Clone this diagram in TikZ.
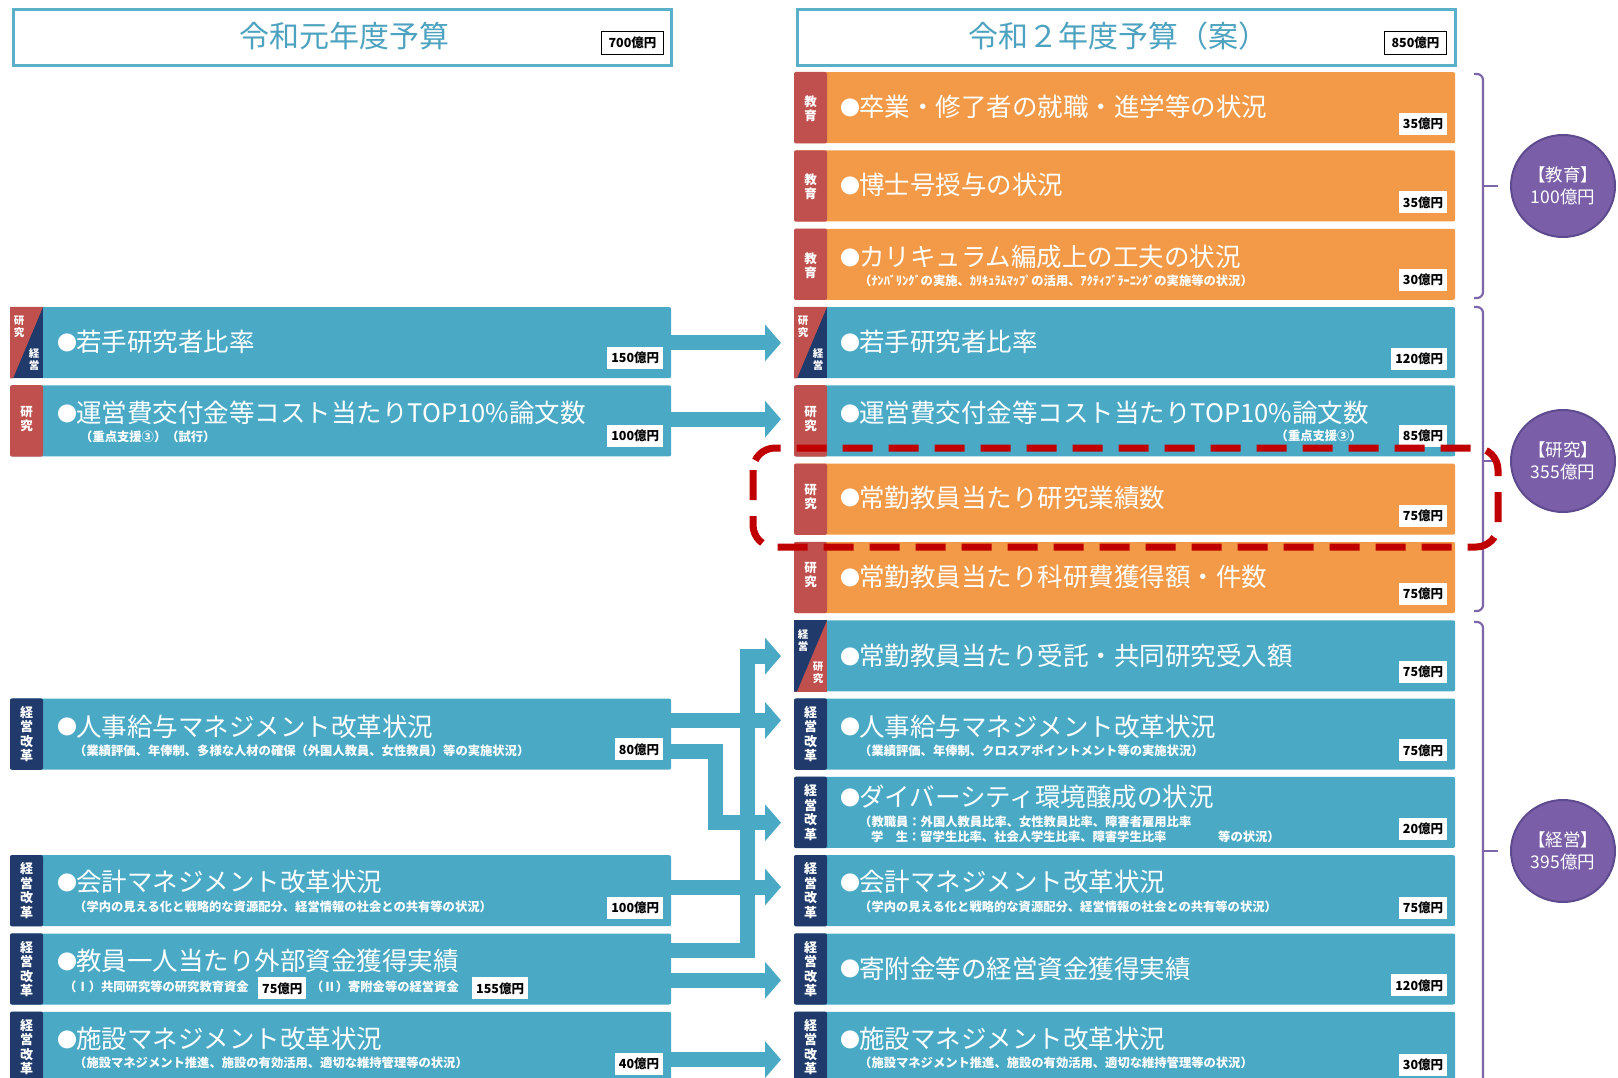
\documentclass[tikz,border=0pt]{standalone}
\usepackage{fontspec}
\setmainfont{Noto Sans CJK JP}
\usetikzlibrary{arrows.meta,shapes.geometric}
\definecolor{cBlue}{HTML}{4AAAC6}
\definecolor{cOrange}{HTML}{F39A48}
\definecolor{cRed}{HTML}{C0504D}
\definecolor{cNavy}{HTML}{1F3A6B}
\definecolor{cHdr}{HTML}{5BB0C9}
\definecolor{cTitle}{HTML}{4DA3BF}
\definecolor{cPurple}{HTML}{7A5FA8}
\definecolor{cPurpleD}{HTML}{5E4A8E}
\definecolor{cBrace}{HTML}{7D66AA}
\definecolor{cHL}{HTML}{C00000}
\newcommand\mybul{{\fontsize{20}{20}\selectfont\raisebox{1.2pt}{●}}\hspace{-1pt}}
\tikzset{
  rowbox/.style={minimum width=661pt, minimum height=71pt, anchor=north west, inner sep=0pt, rounded corners=2pt},
  maintxt/.style={anchor=west, inner sep=0pt, text=white, font=\fontsize{25.5}{27}\selectfont},
  subtxt/.style={anchor=west, inner sep=0pt, text=white, font=\bfseries\fontsize{12.3}{14}\selectfont},
  budget/.style={anchor=east, fill=white, inner xsep=4pt, inner ysep=0pt, minimum height=22pt, font=\bfseries\fontsize{12.5}{13}\selectfont, text=black},
  tagtxt/.style={text=white, font=\bfseries\fontsize{12.5}{14}\selectfont, align=center, inner sep=0pt},
  tagsmall/.style={text=white, font=\bfseries\fontsize{10.5}{12}\selectfont, align=center, inner sep=0pt},
  arr/.style={draw=cBlue, line width=15pt, line join=miter, -{Triangle[length=16pt,width=36pt]}},
  hdr/.style={draw=cHdr, line width=3.5pt, fill=white, minimum width=658pt, minimum height=56pt, anchor=north west, inner sep=0pt},
  hdrbudget/.style={draw=black, line width=1.6pt, fill=white, minimum width=62pt, minimum height=23pt, inner sep=0pt, font=\bfseries\fontsize{12.5}{13}\selectfont},
  circ/.style={ellipse, fill=cPurple, draw=cPurpleD, line width=2pt, minimum width=104pt, minimum height=102pt, text=white, font=\fontsize{17.5}{22}\selectfont, align=center, inner sep=0pt},
  bracepath/.style={draw=cBrace, line width=2.2pt, rounded corners=6pt},
  hl/.style={draw=cHL, line width=7pt, dash pattern=on 30pt off 16pt, rounded corners=22pt},
}
\begin{document}
\begin{tikzpicture}[x=1pt,y=-1pt]
\clip (0,0) rectangle (1618,1078);
\fill[white] (0,0) rectangle (1618,1078);

% headers
\node[hdr] (H1) at (11.75,7.75) {};
\node[font=\fontsize{30}{31}\selectfont, text=cTitle, inner sep=0pt] (H1t) at (344,36) {令和元年度予算};
\node[hdrbudget] (H1b) at (632.5,43) {700億円};
\node[hdr] (H2) at (795.75,7.75) {};
\node[font=\fontsize{30}{31}\selectfont, text=cTitle, inner sep=0pt] (H2t) at (1118,36) {令和２年度予算（案）};
\node[hdrbudget] (H2b) at (1415.5,43) {850億円};

% left rows
\node[rowbox, fill=cBlue] (L1) at (10,306.9) {};
\node[rowbox, fill=cBlue] (L2) at (10,385.2) {};
\node[rowbox, fill=cBlue] (L3) at (10,698.4) {};
\node[rowbox, fill=cBlue] (L4) at (10,855) {};
\node[rowbox, fill=cBlue] (L5) at (10,933.3) {};
\node[rowbox, fill=cBlue] (L6) at (10,1011.6) {};

% right rows
\node[rowbox, fill=cOrange] (R1) at (794,72) {};
\node[rowbox, fill=cOrange] (R2) at (794,150.3) {};
\node[rowbox, fill=cOrange] (R3) at (794,228.6) {};
\node[rowbox, fill=cBlue] (R4) at (794,306.9) {};
\node[rowbox, fill=cBlue] (R5) at (794,385.2) {};
\node[rowbox, fill=cOrange] (R6) at (794,463.5) {};
\node[rowbox, fill=cOrange] (R7) at (794,541.8) {};
\node[rowbox, fill=cBlue] (R8) at (794,620.1) {};
\node[rowbox, fill=cBlue] (R9) at (794,698.4) {};
\node[rowbox, fill=cBlue] (R10) at (794,776.7) {};
\node[rowbox, fill=cBlue] (R11) at (794,855) {};
\node[rowbox, fill=cBlue] (R12) at (794,933.3) {};
\node[rowbox, fill=cBlue] (R13) at (794,1011.6) {};

% arrows
\draw[arr] ([yshift=-36pt]L1.north east) -- ([xshift=-13pt,yshift=-36pt]R4.north west);
\draw[arr] ([yshift=-34pt]L2.north east) -- ([xshift=-13pt,yshift=-34pt]R5.north west);
\draw[arr] ([yshift=-22pt]L3.north east) -- ([xshift=-13pt,yshift=-22pt]R9.north west);
\draw[arr] ([yshift=-53pt]L3.north east) -- ++(44,0) |- ([xshift=-13pt,yshift=-46pt]R10.north west);
\draw[arr] ([yshift=-17pt]L5.north east) -- ++(76,0) |- ([xshift=-13pt,yshift=-36pt]R8.north west);
\draw[arr] ([yshift=-32pt]L4.north east) -- ([xshift=-13pt,yshift=-32pt]R11.north west);
\draw[arr] ([yshift=-47pt]L5.north east) -- ([xshift=-13pt,yshift=-47pt]R12.north west);
\draw[arr] ([yshift=-48pt]L6.north east) -- ([xshift=-13pt,yshift=-48pt]R13.north west);

% tags: plain
\foreach \r/\c in {R1/cRed,R2/cRed,R3/cRed,R5/cRed,R6/cRed,R7/cRed,R9/cNavy,R10/cNavy,R11/cNavy,R12/cNavy,R13/cNavy,L2/cRed,L3/cNavy,L4/cNavy,L5/cNavy,L6/cNavy}{
  \fill[\c, rounded corners=2pt] (\r.north west) rectangle ([xshift=33pt]\r.south west);
}
\foreach \r in {R1,R2,R3}{\node[tagtxt] (\r tag) at ([xshift=16.5pt,yshift=-1pt]\r.west) {教\\育};}
\foreach \r in {R5,R6,R7,L2}{\node[tagtxt] (\r tag) at ([xshift=16.5pt,yshift=2pt]\r.west) {研\\究};}
\foreach \r in {R9,R10,R11,R12,R13,L3,L4,L5,L6}{\node[tagtxt, font=\bfseries\fontsize{13}{14.5}\selectfont] (\r tag) at ([xshift=16.5pt]\r.west) {経\\営\\改\\革};}

% tags: diagonal
\foreach \r in {R4,L1}{
  \fill[cNavy] (\r.north west) rectangle ([xshift=33pt]\r.south west);
  \fill[cRed] (\r.north west) -- ([xshift=33pt]\r.north west) -- ([xshift=3pt]\r.south west) -- (\r.south west) -- cycle;
  \node[tagsmall] (\r tagA) at ([xshift=9pt,yshift=-20pt]\r.north west) {研\\究};
  \node[tagsmall] (\r tagB) at ([xshift=24pt,yshift=19pt]\r.south west) {経\\営};
}
\fill[cRed] (R8.north west) rectangle ([xshift=33pt]R8.south west);
\fill[cNavy] (R8.north west) -- ([xshift=33pt]R8.north west) -- ([xshift=3pt]R8.south west) -- (R8.south west) -- cycle;
\node[tagsmall] (R8tagA) at ([xshift=9pt,yshift=-20pt]R8.north west) {経\\営};
\node[tagsmall] (R8tagB) at ([xshift=24pt,yshift=19pt]R8.south west) {研\\究};

% right texts
\node[maintxt] (R1t) at ([xshift=46pt,yshift=-35pt]R1.north west) {\mybul 卒業・修了者の就職・進学等の状況};
\node[maintxt] (R2t) at ([xshift=46pt,yshift=-35pt]R2.north west) {\mybul 博士号授与の状況};
\node[maintxt] (R3t) at ([xshift=46pt,yshift=-28pt]R3.north west) {\mybul カリキュラム編成上の工夫の状況};
\node[subtxt] (R3s) at ([xshift=65pt,yshift=-52pt]R3.north west) {（ﾅﾝﾊﾞﾘﾝｸﾞの実施、ｶﾘｷｭﾗﾑﾏｯﾌﾟの活用、ｱｸﾃｨﾌﾞﾗｰﾆﾝｸﾞの実施等の状況）};
\node[maintxt] (R4t) at ([xshift=46pt,yshift=-35pt]R4.north west) {\mybul 若手研究者比率};
\node[maintxt] (R5t) at ([xshift=46pt,yshift=-28pt]R5.north west) {\mybul 運営費交付金等コスト当たりTOP10\%論文数};
\node[subtxt, anchor=east] (R5s) at ([xshift=568pt,yshift=-51pt]R5.north west) {（重点支援③）};
\node[maintxt] (R6t) at ([xshift=46pt,yshift=-34pt]R6.north west) {\mybul 常勤教員当たり研究業績数};
\node[maintxt] (R7t) at ([xshift=46pt,yshift=-35pt]R7.north west) {\mybul 常勤教員当たり科研費獲得額・件数};
\node[maintxt] (R8t) at ([xshift=46pt,yshift=-36pt]R8.north west) {\mybul 常勤教員当たり受託・共同研究受入額};
\node[maintxt] (R9t) at ([xshift=46pt,yshift=-28pt]R9.north west) {\mybul 人事給与マネジメント改革状況};
\node[subtxt] (R9s) at ([xshift=65pt,yshift=-52pt]R9.north west) {（業績評価、年俸制、クロスアポイントメント等の実施状況）};
\node[maintxt] (R10t) at ([xshift=46pt,yshift=-20pt]R10.north west) {\mybul ダイバーシティ環境醸成の状況};
\node[subtxt] (R10s) at ([xshift=65pt,yshift=-45pt]R10.north west) {（教職員：外国人教員比率、女性教員比率、障害者雇用比率};
\node[subtxt] (R10u) at ([xshift=77pt,yshift=-60pt]R10.north west) {学　生：留学生比率、社会人学生比率、障害学生比率};
\node[subtxt] (R10v) at ([xshift=424pt,yshift=-60pt]R10.north west) {等の状況）};
\node[maintxt] (R11t) at ([xshift=46pt,yshift=-27pt]R11.north west) {\mybul 会計マネジメント改革状況};
\node[subtxt] (R11s) at ([xshift=65pt,yshift=-52pt]R11.north west) {（学内の見える化と戦略的な資源配分、経営情報の社会との共有等の状況）};
\node[maintxt] (R12t) at ([xshift=46pt,yshift=-35pt]R12.north west) {\mybul 寄附金等の経営資金獲得実績};
\node[maintxt] (R13t) at ([xshift=46pt,yshift=-27pt]R13.north west) {\mybul 施設マネジメント改革状況};
\node[subtxt] (R13s) at ([xshift=65pt,yshift=-51pt]R13.north west) {（施設マネジメント推進、施設の有効活用、適切な維持管理等の状況）};

% right budgets
\node[budget] (R1b) at ([xshift=-8pt,yshift=-52pt]R1.north east) {35億円};
\node[budget] (R2b) at ([xshift=-8pt,yshift=-52pt]R2.north east) {35億円};
\node[budget] (R3b) at ([xshift=-8pt,yshift=-51pt]R3.north east) {30億円};
\node[budget] (R4b) at ([xshift=-8pt,yshift=-52pt]R4.north east) {120億円};
\node[budget] (R5b) at ([xshift=-8pt,yshift=-51pt]R5.north east) {85億円};
\node[budget] (R6b) at ([xshift=-8pt,yshift=-52pt]R6.north east) {75億円};
\node[budget] (R7b) at ([xshift=-8pt,yshift=-52pt]R7.north east) {75億円};
\node[budget] (R8b) at ([xshift=-8pt,yshift=-52pt]R8.north east) {75億円};
\node[budget] (R9b) at ([xshift=-8pt,yshift=-52pt]R9.north east) {75億円};
\node[budget] (R10b) at ([xshift=-8pt,yshift=-52pt]R10.north east) {20億円};
\node[budget] (R11b) at ([xshift=-8pt,yshift=-53pt]R11.north east) {75億円};
\node[budget] (R12b) at ([xshift=-8pt,yshift=-52pt]R12.north east) {120億円};
\node[budget] (R13b) at ([xshift=-8pt,yshift=-53pt]R13.north east) {30億円};

% left texts
\node[maintxt] (L1t) at ([xshift=47pt,yshift=-35pt]L1.north west) {\mybul 若手研究者比率};
\node[maintxt] (L2t) at ([xshift=47pt,yshift=-28pt]L2.north west) {\mybul 運営費交付金等コスト当たりTOP10\%論文数};
\node[subtxt] (L2s) at ([xshift=70pt,yshift=-52pt]L2.north west) {（重点支援③）（試行）};
\node[maintxt] (L3t) at ([xshift=47pt,yshift=-28pt]L3.north west) {\mybul 人事給与マネジメント改革状況};
\node[subtxt] (L3s) at ([xshift=64pt,yshift=-52pt]L3.north west) {（業績評価、年俸制、多様な人材の確保（外国人教員、女性教員）等の実施状況）};
\node[maintxt] (L4t) at ([xshift=47pt,yshift=-27pt]L4.north west) {\mybul 会計マネジメント改革状況};
\node[subtxt] (L4s) at ([xshift=64pt,yshift=-52pt]L4.north west) {（学内の見える化と戦略的な資源配分、経営情報の社会との共有等の状況）};
\node[maintxt] (L5t) at ([xshift=47pt,yshift=-28pt]L5.north west) {\mybul 教員一人当たり外部資金獲得実績};
\node[subtxt] (L5s) at ([xshift=54pt,yshift=-54pt]L5.north west) {（Ⅰ）共同研究等の研究教育資金};
\node[budget, anchor=west] (L5b1) at ([xshift=248pt,yshift=-55pt]L5.north west) {75億円};
\node[subtxt] (L5u) at ([xshift=301pt,yshift=-54pt]L5.north west) {（Ⅱ）寄附金等の経営資金};
\node[budget, anchor=west] (L5b2) at ([xshift=462pt,yshift=-55pt]L5.north west) {155億円};
\node[maintxt] (L6t) at ([xshift=47pt,yshift=-27pt]L6.north west) {\mybul 施設マネジメント改革状況};
\node[subtxt] (L6s) at ([xshift=64pt,yshift=-51pt]L6.north west) {（施設マネジメント推進、施設の有効活用、適切な維持管理等の状況）};

% left budgets
\node[budget] (L1b) at ([xshift=-8pt,yshift=-51pt]L1.north east) {150億円};
\node[budget] (L2b) at ([xshift=-8pt,yshift=-51pt]L2.north east) {100億円};
\node[budget] (L3b) at ([xshift=-8pt,yshift=-51pt]L3.north east) {80億円};
\node[budget] (L4b) at ([xshift=-8pt,yshift=-53pt]L4.north east) {100億円};
\node[budget] (L6b) at ([xshift=-8pt,yshift=-52pt]L6.north east) {40億円};

% braces
\draw[bracepath] (1474,74) -- (1483,74) -- (1483,298) -- (1474,298);
\draw[cBrace, line width=2.2pt] (1483,186) -- (1498,186);
\draw[bracepath] (1474,307) -- (1483,307) -- (1483,611) -- (1474,611);
\draw[cBrace, line width=2.2pt] (1483,461) -- (1498,461);
\draw[bracepath] (1474,622) -- (1483,622) -- (1483,1090) -- (1474,1090);
\draw[cBrace, line width=2.2pt] (1483,851) -- (1498,851);

% circles
\node[circ] (C1) at (1563,186) {【教育】\\100億円};
\node[circ] (C2) at (1563,461) {【研究】\\355億円};
\node[circ] (C3) at (1563,851) {【経営】\\395億円};

% highlight
\draw[hl] (753,448) rectangle (1498,547);
\end{tikzpicture}
\end{document}
